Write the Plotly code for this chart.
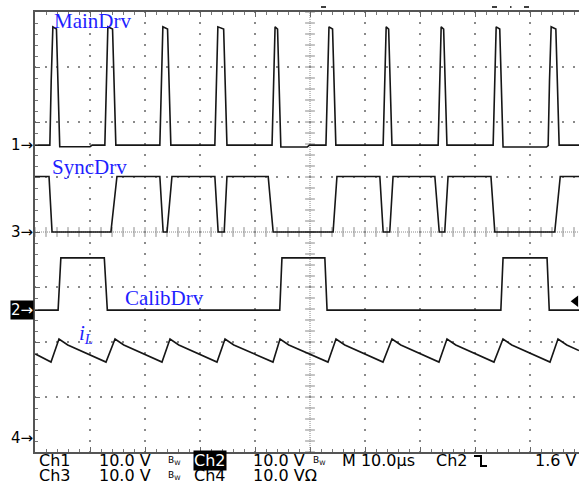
import plotly.graph_objects as go

FIG_W, FIG_H = 579, 485
# scope screen: 10 us/div, 8 vertical divisions, 10 V/div
X_RANGE_US = [0.0, 98.91]
Y_RANGE_DIV = [-4.0, 4.0]
VOLTS_PER_DIV = 10.0
AMPS_PER_DIV = 10.0

CHANNEL_NAMES = ["1", "2", "3", "4"]
CHANNEL_OFFSET_DIV = [1.58, -1.42, 0.0, -3.745]

# Ch1 - MainDrv gate pulses
MAIN_RISE_US = [2.7, 12.7, 22.7, 32.7, 43.1, 52.9, 63.3, 73.3, 83.3, 93.3]
MAIN_FALL_US = [4.5, 14.7, 24.7, 34.9, 44.7, 54.7, 64.9, 74.9, 85.1, 95.3]
MAIN_HIGH_V = 21.5
MAIN_LOW_AFTER_V = [-0.3, 0, 0, 0, -0.35, 0, 0, 0, -0.35, 0]
MAIN_DIP_END_US = [10.0, None, None, None, 49.5, None, None, None, 93.0, None]

# Ch3 - SyncDrv (low intervals)
SYNC_FALL_US = [2.55, 22.7, 32.7, 42.4, 62.7, 72.7, 82.9]
SYNC_LOW_US = [3.1, 23.3, 33.3, 43.3, 63.3, 73.5, 83.6]
SYNC_RISE_US = [13.8, 24.0, 34.4, 54.2, 64.5, 74.5, 94.5]
SYNC_HIGH_US = [14.9, 24.9, 34.9, 54.9, 65.1, 75.1, 95.5]
SYNC_HIGH_V = 10.1

# Ch2 - CalibDrv (high intervals)
CALIB_RISE_US = [4.2, 44.5, 84.7]
CALIB_HIGH_US = [4.7, 44.9, 85.1]
CALIB_FALL_US = [12.6, 52.7, 93.1]
CALIB_LOW_US = [13.15, 53.1, 93.5]
CALIB_HIGH_V = 9.5

# Ch4 - inductor current iL
IL_T_US = [0.0, 2.91, 4.36, 5.96, 12.91, 14.55, 16.15, 23.09, 24.55, 26.15,
           33.09, 34.55, 36.15, 43.27, 44.55, 46.15, 53.27, 54.73, 56.33,
           63.27, 64.91, 66.51, 73.45, 74.91, 76.51, 83.45, 85.09, 86.69,
           93.64, 95.09, 96.69, 98.91]
IL_A = [15.3, 13.8, 18.0, 16.9, 13.8, 18.0, 16.9, 13.8, 18.0, 16.9,
        13.8, 18.0, 16.9, 13.8, 18.0, 16.9, 13.8, 18.0, 16.9,
        13.8, 18.0, 16.9, 13.8, 18.0, 16.9, 13.8, 18.0, 16.9,
        13.8, 18.0, 16.9, 15.9]

TRIG_LEVEL_V = 1.6
TRIG_MARK_US = 98.3

LABELS = ["MainDrv", "SyncDrv", "CalibDrv", "<i>i</i><sub><i>L</i></sub>"]
LABEL_X_US = [3.1, 2.7, 16.0, 7.6]
LABEL_Y_DIV = [3.84, 1.18, -1.2, -1.85]

TRACE_COLOR = "#161616"
GRID_COLOR = "#8a8a8a"
LABEL_BLUE = "#1f1fff"

# ---------------- build waveforms ----------------
def main_wave():
    t, v = [X_RANGE_US[0]], [0.0]
    for r, f, lo, de in zip(MAIN_RISE_US, MAIN_FALL_US, MAIN_LOW_AFTER_V, MAIN_DIP_END_US):
        t += [r, r + 0.25, r + 0.55, f - 0.6, f - 0.3, f]
        v += [0.0, MAIN_HIGH_V * 0.55, MAIN_HIGH_V, MAIN_HIGH_V - 0.4, MAIN_HIGH_V * 0.5, lo]
        if de is not None:
            t += [de, de + 0.4]
            v += [lo, 0.0]
    t.append(X_RANGE_US[1]); v.append(0.0)
    return t, v


def sync_wave():
    t, v = [X_RANGE_US[0]], [SYNC_HIGH_V]
    for a, b, c, d in zip(SYNC_FALL_US, SYNC_LOW_US, SYNC_RISE_US, SYNC_HIGH_US):
        t += [a, b, c, d]
        v += [SYNC_HIGH_V, 0.0, 0.0, SYNC_HIGH_V]
    t.append(X_RANGE_US[1]); v.append(SYNC_HIGH_V)
    return t, v


def calib_wave():
    t, v = [X_RANGE_US[0]], [0.0]
    for a, b, c, d in zip(CALIB_RISE_US, CALIB_HIGH_US, CALIB_FALL_US, CALIB_LOW_US):
        t += [a, b, c, d]
        v += [0.0, CALIB_HIGH_V, CALIB_HIGH_V, 0.0]
    t.append(X_RANGE_US[1]); v.append(0.0)
    return t, v


def to_div(vals, ch_idx, per_div):
    off = CHANNEL_OFFSET_DIV[ch_idx]
    return [off + x / per_div for x in vals]


fig = go.Figure()

# ---------------- graticule ----------------
minor_x = [i * 2.0 for i in range(0, 50)]
minor_y = [-4.0 + 0.2 * i for i in range(41)]
major_x = [10, 20, 30, 40, 60, 70, 80, 90]
major_y = [-3, -2, -1, 1, 2, 3]
gx, gy = [], []
for mx in major_x:
    for my in minor_y:
        gx.append(mx); gy.append(my)
for my in major_y:
    for mx in minor_x:
        gx.append(mx); gy.append(my)
fig.add_trace(go.Scatter(x=gx, y=gy, mode="markers", hoverinfo="skip",
                         marker=dict(symbol="square", size=2, color=GRID_COLOR, line=dict(width=0)),
                         showlegend=False))
# centre lines
fig.add_shape(type="line", x0=50, x1=50, y0=Y_RANGE_DIV[0], y1=Y_RANGE_DIV[1],
              line=dict(color=GRID_COLOR, width=1, dash="1px,1px"), layer="below")
fig.add_shape(type="line", x0=X_RANGE_US[0], x1=X_RANGE_US[1], y0=0, y1=0,
              line=dict(color=GRID_COLOR, width=1, dash="1px,1px"), layer="below")
fig.add_trace(go.Scatter(x=[50] * len(minor_y), y=minor_y, mode="markers", hoverinfo="skip",
                         marker=dict(symbol="line-ew", size=7, line=dict(width=1, color=GRID_COLOR)),
                         showlegend=False))
fig.add_trace(go.Scatter(x=minor_x, y=[0] * len(minor_x), mode="markers", hoverinfo="skip",
                         marker=dict(symbol="line-ns", size=7, line=dict(width=1, color=GRID_COLOR)),
                         showlegend=False))

# ---------------- traces ----------------
mt, mv = main_wave()
st, sv = sync_wave()
ct, cv = calib_wave()
traces = [
    (mt, to_div(mv, 0, VOLTS_PER_DIV)),
    (st, to_div(sv, 2, VOLTS_PER_DIV)),
    (ct, to_div(cv, 1, VOLTS_PER_DIV)),
    (IL_T_US, to_div(IL_A, 3, AMPS_PER_DIV)),
]
for tx, ty in traces:
    fig.add_trace(go.Scatter(x=tx, y=ty, mode="lines", hoverinfo="skip",
                             line=dict(color=TRACE_COLOR, width=1.6), showlegend=False))

# trigger level marker
fig.add_trace(go.Scatter(x=[TRIG_MARK_US], y=[CHANNEL_OFFSET_DIV[1] + TRIG_LEVEL_V / VOLTS_PER_DIV],
                         mode="markers", cliponaxis=False, hoverinfo="skip",
                         marker=dict(symbol="triangle-left", size=10, color="black"),
                         showlegend=False))

# ---------------- annotations ----------------
ann = []
for txt, x, y in zip(LABELS, LABEL_X_US, LABEL_Y_DIV):
    ann.append(dict(text=txt, x=x, y=y, xref="x", yref="y", xanchor="left", yanchor="middle",
                    showarrow=False, font=dict(family="Liberation Serif", size=21, color=LABEL_BLUE)))

for name, off in zip(CHANNEL_NAMES, CHANNEL_OFFSET_DIV):
    boxed = name == "2"
    ann.append(dict(text=f"{name}→", x=0, y=off, xref="paper", yref="y", xanchor="right",
                    yanchor="middle", xshift=-1, showarrow=False,
                    bgcolor="black" if boxed else None, borderpad=0,
                    font=dict(family="DejaVu Sans", size=15, color="white" if boxed else "black")))

PLOT_L, PLOT_T, PLOT_W, PLOT_H = 35, 12, 544, 440


def px_x(x):
    return (x - PLOT_L) / PLOT_W


def px_y(y):
    return (PLOT_T + PLOT_H - y) / PLOT_H


STATUS_ROWS = [
    [("Ch1", 38), ("10.0 V", 98), ("Ch2", 193), ("10.0 V", 252), ("M 10.0µs", 341), ("Ch2", 435)],
    [("Ch3", 38), ("10.0 V", 98), ("Ch4", 193), ("10.0 VΩ", 252)],
]
ROW_Y = [460.5, 475.5]
for row, yc in zip(STATUS_ROWS, ROW_Y):
    for txt, xl in row:
        boxed = (txt == "Ch2" and xl == 193)
        ann.append(dict(text=txt, x=px_x(xl), y=px_y(yc), xref="paper", yref="paper",
                        xanchor="left", yanchor="middle", showarrow=False,
                        bgcolor="black" if boxed else None, borderpad=0,
                        font=dict(family="DejaVu Sans", size=16, color="white" if boxed else "black")))
ann.append(dict(text="1.6 V", x=1, y=px_y(ROW_Y[0]), xref="paper", yref="paper",
                xanchor="right", yanchor="middle", showarrow=False,
                font=dict(family="DejaVu Sans", size=16, color="black")))
for xl, yc in [(166, ROW_Y[0]), (311, ROW_Y[0]), (166, ROW_Y[1])]:
    ann.append(dict(text="B<sub>W</sub>", x=px_x(xl), y=px_y(yc), xref="paper", yref="paper",
                    xanchor="left", yanchor="middle", showarrow=False,
                    font=dict(family="DejaVu Sans", size=9, color="black")))

# falling-edge trigger symbol drawn as three small filled bars (left, top, width, height in px)
for (bx, by, bw, bh) in [(474, 455, 8, 2), (480, 455, 2, 12), (480, 465, 7, 2)]:
    ann.append(dict(text="", x=px_x(bx), y=px_y(by), xref="paper", yref="paper",
                    xanchor="left", yanchor="top", showarrow=False, width=bw, height=bh,
                    bgcolor="black", borderpad=0, borderwidth=0))

shapes = []
# small indicator marks above the screen
for x0, x1 in [(283, 284.5), (295, 300), (321, 326), (492, 497), (510, 511.5), (524, 529)]:
    shapes.append(dict(type="line", xref="paper", yref="paper", x0=px_x(x0), x1=px_x(x1),
                       y0=px_y(7), y1=px_y(7), line=dict(color="black", width=1.5)))

fig.update_layout(
    width=FIG_W, height=FIG_H,
    margin=dict(l=PLOT_L, r=0, t=PLOT_T, b=FIG_H - PLOT_T - PLOT_H, pad=0),
    paper_bgcolor="white", plot_bgcolor="white",
    showlegend=False,
    annotations=ann,
    shapes=shapes,
    xaxis=dict(range=X_RANGE_US, showgrid=False, zeroline=False, showticklabels=False,
               showline=True, linecolor="#555", linewidth=1.5, mirror="allticks",
               ticks="inside", dtick=10, tick0=0, ticklen=5, tickcolor="#666",
               minor=dict(ticks="inside", dtick=2, ticklen=3, tickcolor="#777")),
    yaxis=dict(range=Y_RANGE_DIV, showgrid=False, zeroline=False, showticklabels=False,
               showline=True, linecolor="#555", linewidth=1.5, mirror=False,
               ticks="inside", dtick=1, tick0=0, ticklen=5, tickcolor="#666",
               minor=dict(ticks="inside", dtick=0.2, ticklen=3, tickcolor="#777")),
)

fig.write_html("out.html", config={"displayModeBar": False},
               post_script="document.body.style.margin='0';document.body.style.overflow='hidden';")
